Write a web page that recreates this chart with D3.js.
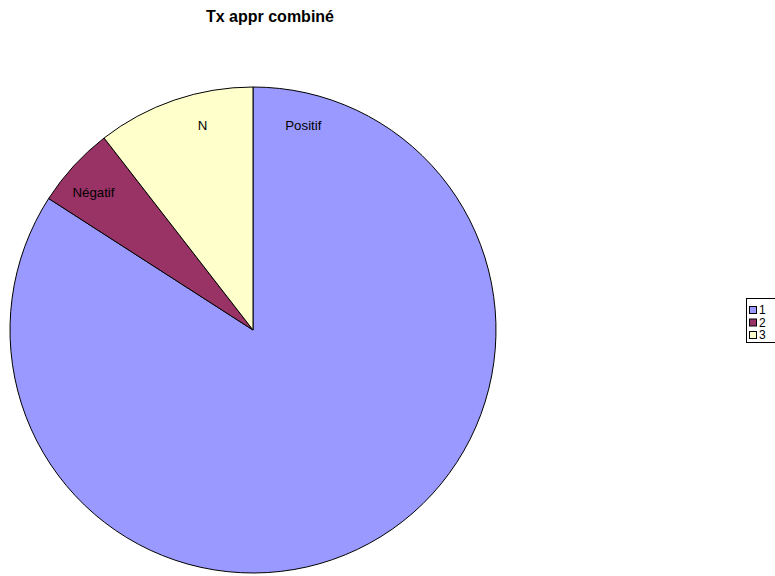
<!DOCTYPE html>
<html>
<head>
<meta charset="utf-8">
<script src="https://cdn.jsdelivr.net/npm/d3@7"></script>
<style>
  body { margin: 0; background: #fff; }
  svg { display: block; font-family: "Liberation Sans", Arial, sans-serif; }
</style>
</head>
<body>
<svg id="chart" width="775" height="576"></svg>
<script>
// Chart data
const title = "Tx appr combiné";
const categories = ["1", "2", "3"];
const sliceLabels = ["Positif", "Négatif", "N"];
const values = [84.1, 5.4, 10.5];
const colors = ["#9999ff", "#993366", "#ffffcc"];

const svg = d3.select("#chart");
const cx = 253, cy = 330, radius = 243;

svg.append("text")
  .attr("x", 270).attr("y", 22)
  .attr("text-anchor", "middle")
  .attr("font-size", 16).attr("font-weight", "bold")
  .text(title);

// Pie: first slice starts at 12 o'clock and runs clockwise
const pie = d3.pie().sort(null).value(d => d)(values);
const arc = d3.arc().innerRadius(0).outerRadius(radius);

const g = svg.append("g").attr("transform", `translate(${cx},${cy})`);
g.selectAll("path.slice")
  .data(pie)
  .join("path")
  .attr("class", "slice")
  .attr("d", arc)
  .attr("fill", (d, i) => colors[i])
  .attr("stroke", "#000")
  .attr("stroke-width", 1);

// Slice labels sit inside the rim; the large slice's label hugs its start edge,
// the last slice's label hugs its end edge
const inset = 0.241;
const labelAngle = [
  pie[0].startAngle + inset,
  (pie[1].startAngle + pie[1].endAngle) / 2 - 0.028,
  pie[2].endAngle - inset
];
const labelR = 211;
g.selectAll("text.lbl")
  .data(pie)
  .join("text")
  .attr("class", "lbl")
  .attr("x", (d, i) => Math.sin(labelAngle[i]) * labelR)
  .attr("y", (d, i) => -Math.cos(labelAngle[i]) * labelR)
  .attr("text-anchor", "middle")
  .attr("dy", "0.35em")
  .attr("font-size", 13.3)
  .text((d, i) => sliceLabels[i]);

// Legend
const lg = svg.append("g").attr("transform", "translate(746,298)");
lg.append("rect")
  .attr("x", 0.5).attr("y", 0.5)
  .attr("width", 40).attr("height", 44)
  .attr("fill", "#fff").attr("stroke", "#000").attr("stroke-width", 1);
const items = lg.selectAll("g.item")
  .data(categories)
  .join("g")
  .attr("class", "item")
  .attr("transform", (d, i) => `translate(3,${8 + i * 12.5})`);
items.append("rect")
  .attr("x", 0.5).attr("y", 0.5)
  .attr("width", 7).attr("height", 7)
  .attr("fill", (d, i) => colors[i])
  .attr("stroke", "#000").attr("stroke-width", 1);
items.append("text")
  .attr("x", 10).attr("y", 4)
  .attr("dy", "0.36em")
  .attr("font-size", 12)
  .text(d => d);
</script>
</body>
</html>
